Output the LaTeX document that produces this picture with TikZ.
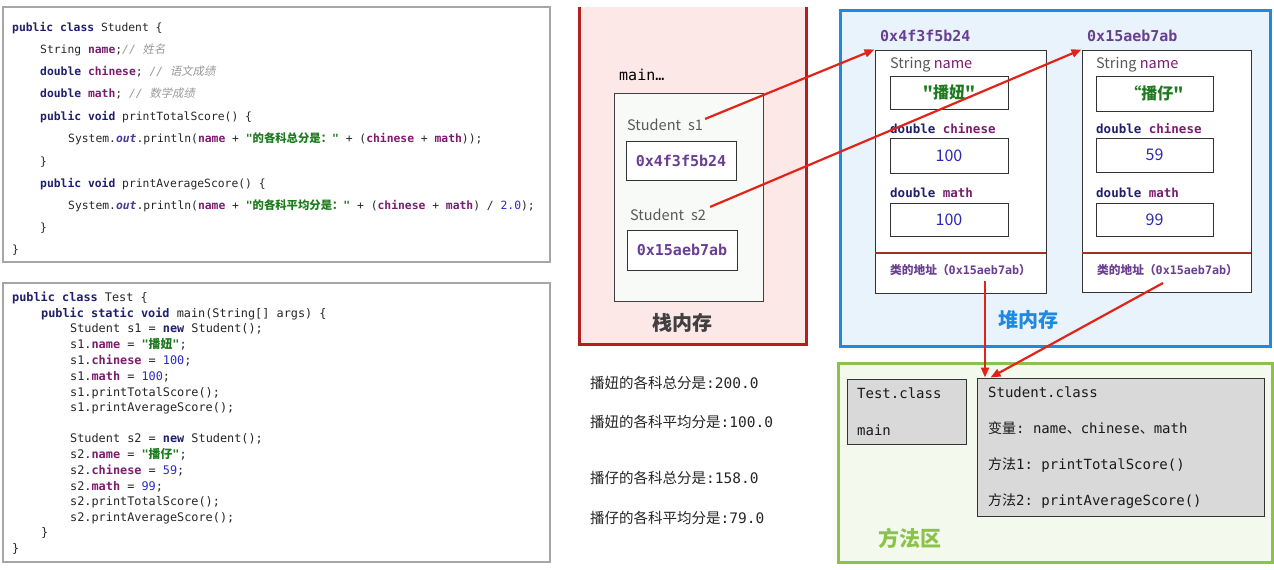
\documentclass[tikz,border=0pt]{standalone}
\usepackage{fontspec}
\setmainfont{Noto Sans CJK SC}
\setmonofont{DejaVu Sans Mono}
\newfontfamily\cjk{Noto Sans CJK SC}
\newfontfamily\cjki[FakeSlant=0.2]{Noto Sans CJK SC}
\usetikzlibrary{arrows.meta,calc}
\definecolor{kwc}{HTML}{1F1F6E}
\definecolor{fdc}{HTML}{7B1C6F}
\definecolor{stc}{HTML}{1E7A1E}
\definecolor{nmc}{HTML}{2A2ACF}
\definecolor{cmc}{HTML}{9A9A9A}
\definecolor{outc}{HTML}{4A3A9A}
\definecolor{addrc}{HTML}{6A3F92}
\definecolor{arrc}{HTML}{E2231A}
\definecolor{stackfill}{HTML}{FDE8E8}
\definecolor{stackline}{HTML}{B41E1E}
\definecolor{heapfill}{HTML}{E8F3FB}
\definecolor{heapline}{HTML}{1E88E5}
\definecolor{methfill}{HTML}{F4F9EE}
\definecolor{methline}{HTML}{8BC34A}
\definecolor{framefill}{HTML}{F7FAF7}
\definecolor{classfill}{HTML}{D9D9D9}
\definecolor{divc}{HTML}{A0302A}
\definecolor{valblue}{HTML}{2A2AB0}
\newcommand{\jkw}[1]{{\bfseries\color{kwc}#1}}
\newcommand{\jfd}[1]{{\bfseries\color{fdc}#1}}
\newcommand{\jst}[1]{{\bfseries\color{stc}#1}}
\newcommand{\jnum}[1]{{\color{nmc}#1}}
\newcommand{\jcm}[1]{{\itshape\color{cmc}#1}}
\newcommand{\jout}[1]{{\itshape\bfseries\color{outc}#1}}
\newcommand{\zh}[1]{{\cjk #1}}
\newcommand{\zhi}[1]{{\cjki #1}}
\tikzset{
  code/.style={anchor=base west, inner sep=0, font=\ttfamily\fontsize{11.35}{13}\selectfont, text=black!85},
  codeb/.style={anchor=base west, inner sep=0, font=\ttfamily\fontsize{11.85}{13}\selectfont, text=black!85},
  codebox/.style={draw=black!35, line width=1.8, fill=white, inner sep=0},
  lbl/.style={anchor=west, inner sep=0, font=\fontsize{14.5}{15}\selectfont, text=black!65},
  valbox/.style={draw=black!80, line width=1, fill=white, inner sep=0},
  addrtxt/.style={font=\ttfamily\bfseries\fontsize{15}{15}\selectfont, text=addrc},
  objbox/.style={draw=black!80, line width=1, fill=white, inner sep=0},
  fieldlbl/.style={anchor=west, inner sep=0, font=\ttfamily\fontsize{12.5}{13}\selectfont},
  numtxt/.style={font=\fontsize{16}{16}\selectfont, text=valblue},
  nametxt/.style={font=\cjk\bfseries\fontsize{16}{16}\selectfont, text=stc},
  addrlbl/.style={anchor=west, inner sep=0, font=\bfseries\fontsize{11.7}{12}\selectfont, text=addrc},
  classbox/.style={draw=black!80, line width=1, fill=classfill, inner sep=0},
  mtxt/.style={anchor=west, inner sep=0, font=\ttfamily\fontsize{14}{15}\selectfont, text=black!90},
  outtxt/.style={anchor=west, inner sep=0, font=\ttfamily\fontsize{14.5}{15}\selectfont, text=black!85},
  areattl/.style={inner sep=0, font=\cjk\bfseries\fontsize{20}{20}\selectfont},
  redarrow/.style={draw=arrc, line width=2.2, -{Triangle[length=10pt,width=8pt]}}
}
\begin{document}
\begin{tikzpicture}[x=1pt,y=-1pt]
\useasboundingbox (0,0) rectangle (1274,570);
\fill[white] (0,0) rectangle (1274,570);

% ---------- code block 1 ----------
\node[codebox, minimum width=547pt, minimum height=255pt] (cb1) at (276.5,134.5) {};
\node[code] (k1) at (12,31) {\jkw{public class} Student \{};
\node[code] (k2) at (40,53) {String \jfd{name};\jcm{// \zhi{姓名}}};
\node[code] (k3) at (40,75) {\jkw{double} \jfd{chinese}; \jcm{// \zhi{语文成绩}}};
\node[code] (k4) at (40,97.5) {\jkw{double} \jfd{math}; \jcm{// \zhi{数学成绩}}};
\node[code] (k5) at (40,120) {\jkw{public void} printTotalScore() \{};
\node[code] (k6) at (68,142) {System.\jout{out}.println(\jfd{name} + \jst{"\zh{的各科总分是：}"} + (\jfd{chinese} + \jfd{math}));};
\node[code] (k7) at (40,165) {\}};
\node[code] (k8) at (40,187) {\jkw{public void} printAverageScore() \{};
\node[code] (k9) at (68,209) {System.\jout{out}.println(\jfd{name} + \jst{"\zh{的各科平均分是：}"} + (\jfd{chinese} + \jfd{math}) / \jnum{2.0});};
\node[code] (k10) at (40,231.5) {\}};
\node[code] (k11) at (12,253.5) {\}};

% ---------- code block 2 ----------
\node[codebox, minimum width=547pt, minimum height=279pt] (cb2) at (276.5,422.5) {};
\node[codeb] (t1) at (12,301) {\jkw{public class} Test \{};
\node[codeb] (t2) at (41,317) {\jkw{public static void} main(String[] args) \{};
\node[codeb] (t3) at (70,332.5) {Student s1 = \jkw{new} Student();};
\node[codeb] (t4) at (70,348.5) {s1.\jfd{name} = \jst{"\zh{播妞}"};};
\node[codeb] (t5) at (70,364) {s1.\jfd{chinese} = \jnum{100};};
\node[codeb] (t6) at (70,380) {s1.\jfd{math} = \jnum{100};};
\node[codeb] (t7) at (70,396) {s1.printTotalScore();};
\node[codeb] (t8) at (70,411) {s1.printAverageScore();};
\node[codeb] (t9) at (70,442.5) {Student s2 = \jkw{new} Student();};
\node[codeb] (t10) at (70,458.5) {s2.\jfd{name} = \jst{"\zh{播仔}"};};
\node[codeb] (t11) at (70,474) {s2.\jfd{chinese} = \jnum{59};};
\node[codeb] (t12) at (70,490) {s2.\jfd{math} = \jnum{99};};
\node[codeb] (t13) at (70,505) {s2.printTotalScore();};
\node[codeb] (t14) at (70,521) {s2.printAverageScore();};
\node[codeb] (t15) at (41,536.5) {\}};
\node[codeb] (t16) at (12,552.5) {\}};

% ---------- stack ----------
\node[fill=stackfill, inner sep=0, minimum width=226pt, minimum height=337pt] (stack) at (693,175.5) {};
\draw[stackline, line width=3] (stack.north west) -- (stack.south west) -- (stack.south east) -- (stack.north east);
\node[draw=black!75, fill=framefill, line width=1, inner sep=0, minimum width=149pt, minimum height=208pt] (frame) at (688.5,197) {};
\node[anchor=west, inner sep=0, font=\ttfamily\fontsize{15}{15}\selectfont] (mainlbl) at (619,75) {main…};
\node[lbl] (s1lbl) at (627,125) {Student\hspace{7pt}s1};
\node[valbox, minimum width=110pt, minimum height=39pt, addrtxt] (s1box) at (681,160.5) {0x4f3f5b24};
\node[lbl] (s2lbl) at (630,215) {Student\hspace{7pt}s2};
\node[valbox, minimum width=110pt, minimum height=40pt, addrtxt] (s2box) at (682,250) {0x15aeb7ab};
\node[areattl, text=black!75] (stackttl) at (682,323) {栈内存};

% ---------- heap ----------
\node[fill=heapfill, draw=heapline, line width=3, inner sep=0, minimum width=430pt, minimum height=336pt] (heap) at (1055,178) {};
\node[addrtxt, anchor=west, inner sep=0] (h1lbl) at (880,36) {0x4f3f5b24};
\node[addrtxt, anchor=west, inner sep=0] (h2lbl) at (1087,36) {0x15aeb7ab};
% object 1
\node[objbox, minimum width=171pt, minimum height=243pt] (obj1) at (960.5,171.5) {};
\draw[divc, line width=1.5] (875,253) -- (1046,253);
\node[lbl] (o1n) at (890,65) {String \textcolor{fdc}{name}};
\node[valbox, minimum width=118pt, minimum height=33pt, nametxt] (o1nb) at (949,92.5) {"播妞"};
\node[fieldlbl] (o1c) at (890,129) {\jkw{double} \jfd{chinese}};
\node[valbox, minimum width=118pt, minimum height=35pt, numtxt] (o1cb) at (949,155.5) {100};
\node[fieldlbl] (o1m) at (890,193) {\jkw{double} \jfd{math}};
\node[valbox, minimum width=118pt, minimum height=33pt, numtxt] (o1mb) at (949,219.5) {100};
\node[addrlbl] (o1a) at (890,270) {类的地址（\ttfamily 0x15aeb7ab\zh{）}};
% object 2
\node[objbox, minimum width=169pt, minimum height=242pt] (obj2) at (1166.5,171) {};
\draw[divc, line width=1.5] (1082,253) -- (1251,253);
\node[lbl] (o2n) at (1096,65) {String \textcolor{fdc}{name}};
\node[valbox, minimum width=117pt, minimum height=35pt, nametxt] (o2nb) at (1154.5,93.5) {“播仔"};
\node[fieldlbl] (o2c) at (1096,129) {\jkw{double} \jfd{chinese}};
\node[valbox, minimum width=117pt, minimum height=34pt, numtxt] (o2cb) at (1154.5,155) {59};
\node[fieldlbl] (o2m) at (1096,193) {\jkw{double} \jfd{math}};
\node[valbox, minimum width=117pt, minimum height=33pt, numtxt] (o2mb) at (1154.5,219.5) {99};
\node[addrlbl] (o2a) at (1097,270) {类的地址（\ttfamily 0x15aeb7ab\zh{）}};
\node[areattl, text=heapline] (heapttl) at (1028,320) {堆内存};

% ---------- method area ----------
\node[fill=methfill, draw=methline, line width=3, inner sep=0, minimum width=434pt, minimum height=199pt] (meth) at (1055,462.5) {};
\node[classbox, minimum width=119pt, minimum height=65pt] (tcls) at (906.5,411.5) {};
\node[mtxt] (tc1) at (857,393) {Test.class};
\node[mtxt] (tc2) at (857,430) {main};
\node[classbox, minimum width=287pt, minimum height=138pt] (scls) at (1120.5,447) {};
\node[mtxt] (sc1) at (988,392) {Student.class};
\node[mtxt] (sc2) at (988,428) {\zh{变量}: name\zh{、}chinese\zh{、}math};
\node[mtxt] (sc3) at (988,465) {\zh{方法}1: printTotalScore()};
\node[mtxt] (sc4) at (988,501) {\zh{方法}2: printAverageScore()};
\node[areattl, text=methline, font=\cjk\bfseries\fontsize{21}{21}\selectfont] (methttl) at (910,538) {方法区};

% ---------- output ----------
\node[outtxt] (out1) at (590,383) {\zh{播妞的各科总分是}:200.0};
\node[outtxt] (out2) at (590,422) {\zh{播妞的各科平均分是}:100.0};
\node[outtxt] (out3) at (590,478) {\zh{播仔的各科总分是}:158.0};
\node[outtxt] (out4) at (590,518) {\zh{播仔的各科平均分是}:79.0};

% ---------- arrows ----------
\draw[redarrow] ([xshift=2pt]s1lbl.north east) -- (obj1.north west);
\draw[redarrow] ([xshift=4pt,yshift=2pt]s2lbl.north east) -- (obj2.north west);
\coordinate (a3s) at (985,281);
\draw[redarrow] (a3s) -- (a3s |- scls.north);
\coordinate (a4s) at (1163,283);
\draw[redarrow] (a4s) -- ($(scls.north west)+(14,0)$);
\end{tikzpicture}
\end{document}
